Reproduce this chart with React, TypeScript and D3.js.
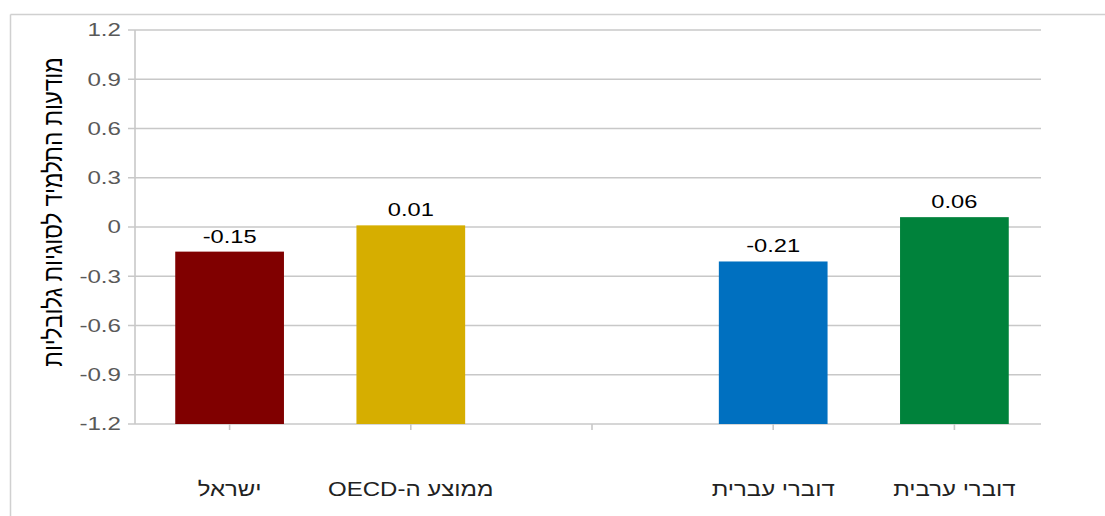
import React from "react";
import * as d3 from "d3";

const categories = ["ישראל", "ממוצע ה-OECD", "", "דוברי עברית", "דוברי ערבית"];
const values: (number | null)[] = [-0.15, 0.01, null, -0.21, 0.06];
const valueLabels = ["-0.15", "0.01", "", "-0.21", "0.06"];
const barColors = ["#800000", "#D6AE00", "none", "#0070C0", "#00823B"];
const yTicks = [1.2, 0.9, 0.6, 0.3, 0, -0.3, -0.6, -0.9, -1.2];
const yTickLabels = ["1.2", "0.9", "0.6", "0.3", "0", "-0.3", "-0.6", "-0.9", "-1.2"];
const yTitle = "מודעות התלמיד לסוגיות גלובליות";

const W = 1105;
const H = 516;
const plotLeft = 135;
const plotRight = 1041;
const plotTop = 30;
const plotBottom = 424;
const font = "'Liberation Sans', Arial, sans-serif";
const gridColor = "#c8c8c8";

export default function App() {
  const x = d3
    .scaleBand<string>()
    .domain(categories.map((_, i) => String(i)))
    .range([139, 1045])
    .paddingInner(0.4)
    .paddingOuter(0.2);
  const y = d3.scaleLinear().domain([-1.2, 1.2]).range([plotBottom, plotTop]);
  const bw = x.bandwidth();

  return (
    <svg
      width={W}
      height={H}
      style={{ position: "absolute", left: 0, top: 0, background: "#fff" }}
      fontFamily={font}
    >
      {/* outer frame */}
      <line x1={10.5} x2={W} y1={14.5} y2={14.5} stroke="#d0d0d0" strokeWidth={1.5} />
      <line x1={10.5} x2={10.5} y1={14.5} y2={H} stroke="#d0d0d0" strokeWidth={1.5} />

      {/* gridlines and y labels */}
      {yTicks.map((t, i) => (
        <g key={i}>
          <line x1={plotLeft - 7} x2={plotRight} y1={y(t)} y2={y(t)} stroke={gridColor} strokeWidth={1.6} />
          <g transform={`translate(121,${y(t)}) scale(1.38,1)`}>
            <text x={0} y={0} dy="0.36em" textAnchor="end" fontSize={17.5} fill="#595959">
              {yTickLabels[i]}
            </text>
          </g>
        </g>
      ))}
      {/* y axis line */}
      <line x1={plotLeft} x2={plotLeft} y1={plotTop} y2={plotBottom} stroke={gridColor} strokeWidth={1.6} />

      {/* bars */}
      {values.map((v, i) =>
        v === null ? null : (
          <g key={i}>
            <rect
              x={x(String(i))!}
              width={bw}
              y={y(v)}
              height={y(-1.2) - y(v)}
              fill={barColors[i]}
            />
            <g transform={`translate(${x(String(i))! + bw / 2},${y(v) - 9}) scale(1.28,1)`}>
              <text x={0} y={0} textAnchor="middle" fontSize={18.5} fill="#000">
                {valueLabels[i]}
              </text>
            </g>
          </g>
        )
      )}

      {/* x ticks and labels */}
      {categories.map((c, i) => {
        const cx = x(String(i))! + bw / 2;
        return (
          <g key={i}>
            <line x1={cx} x2={cx} y1={plotBottom} y2={plotBottom + 6} stroke={gridColor} strokeWidth={1.6} />
            <g transform={`translate(${cx},496) scale(1.2,1)`}>
              <text
                x={0}
                y={0}
                textAnchor="middle"
                fontSize={20}
                fill="#222"
                style={{ direction: "rtl", unicodeBidi: "embed" }}
              >
                {c}
              </text>
            </g>
          </g>
        );
      })}

      {/* y title */}
      <g transform={`translate(62,212) rotate(-90) scale(1,1.15)`}>
        <text
          x={0}
          y={0}
          textAnchor="middle"
          fontSize={22.5}
          fill="#000"
          style={{ direction: "rtl", unicodeBidi: "embed" }}
        >
          {yTitle}
        </text>
      </g>
    </svg>
  );
}
